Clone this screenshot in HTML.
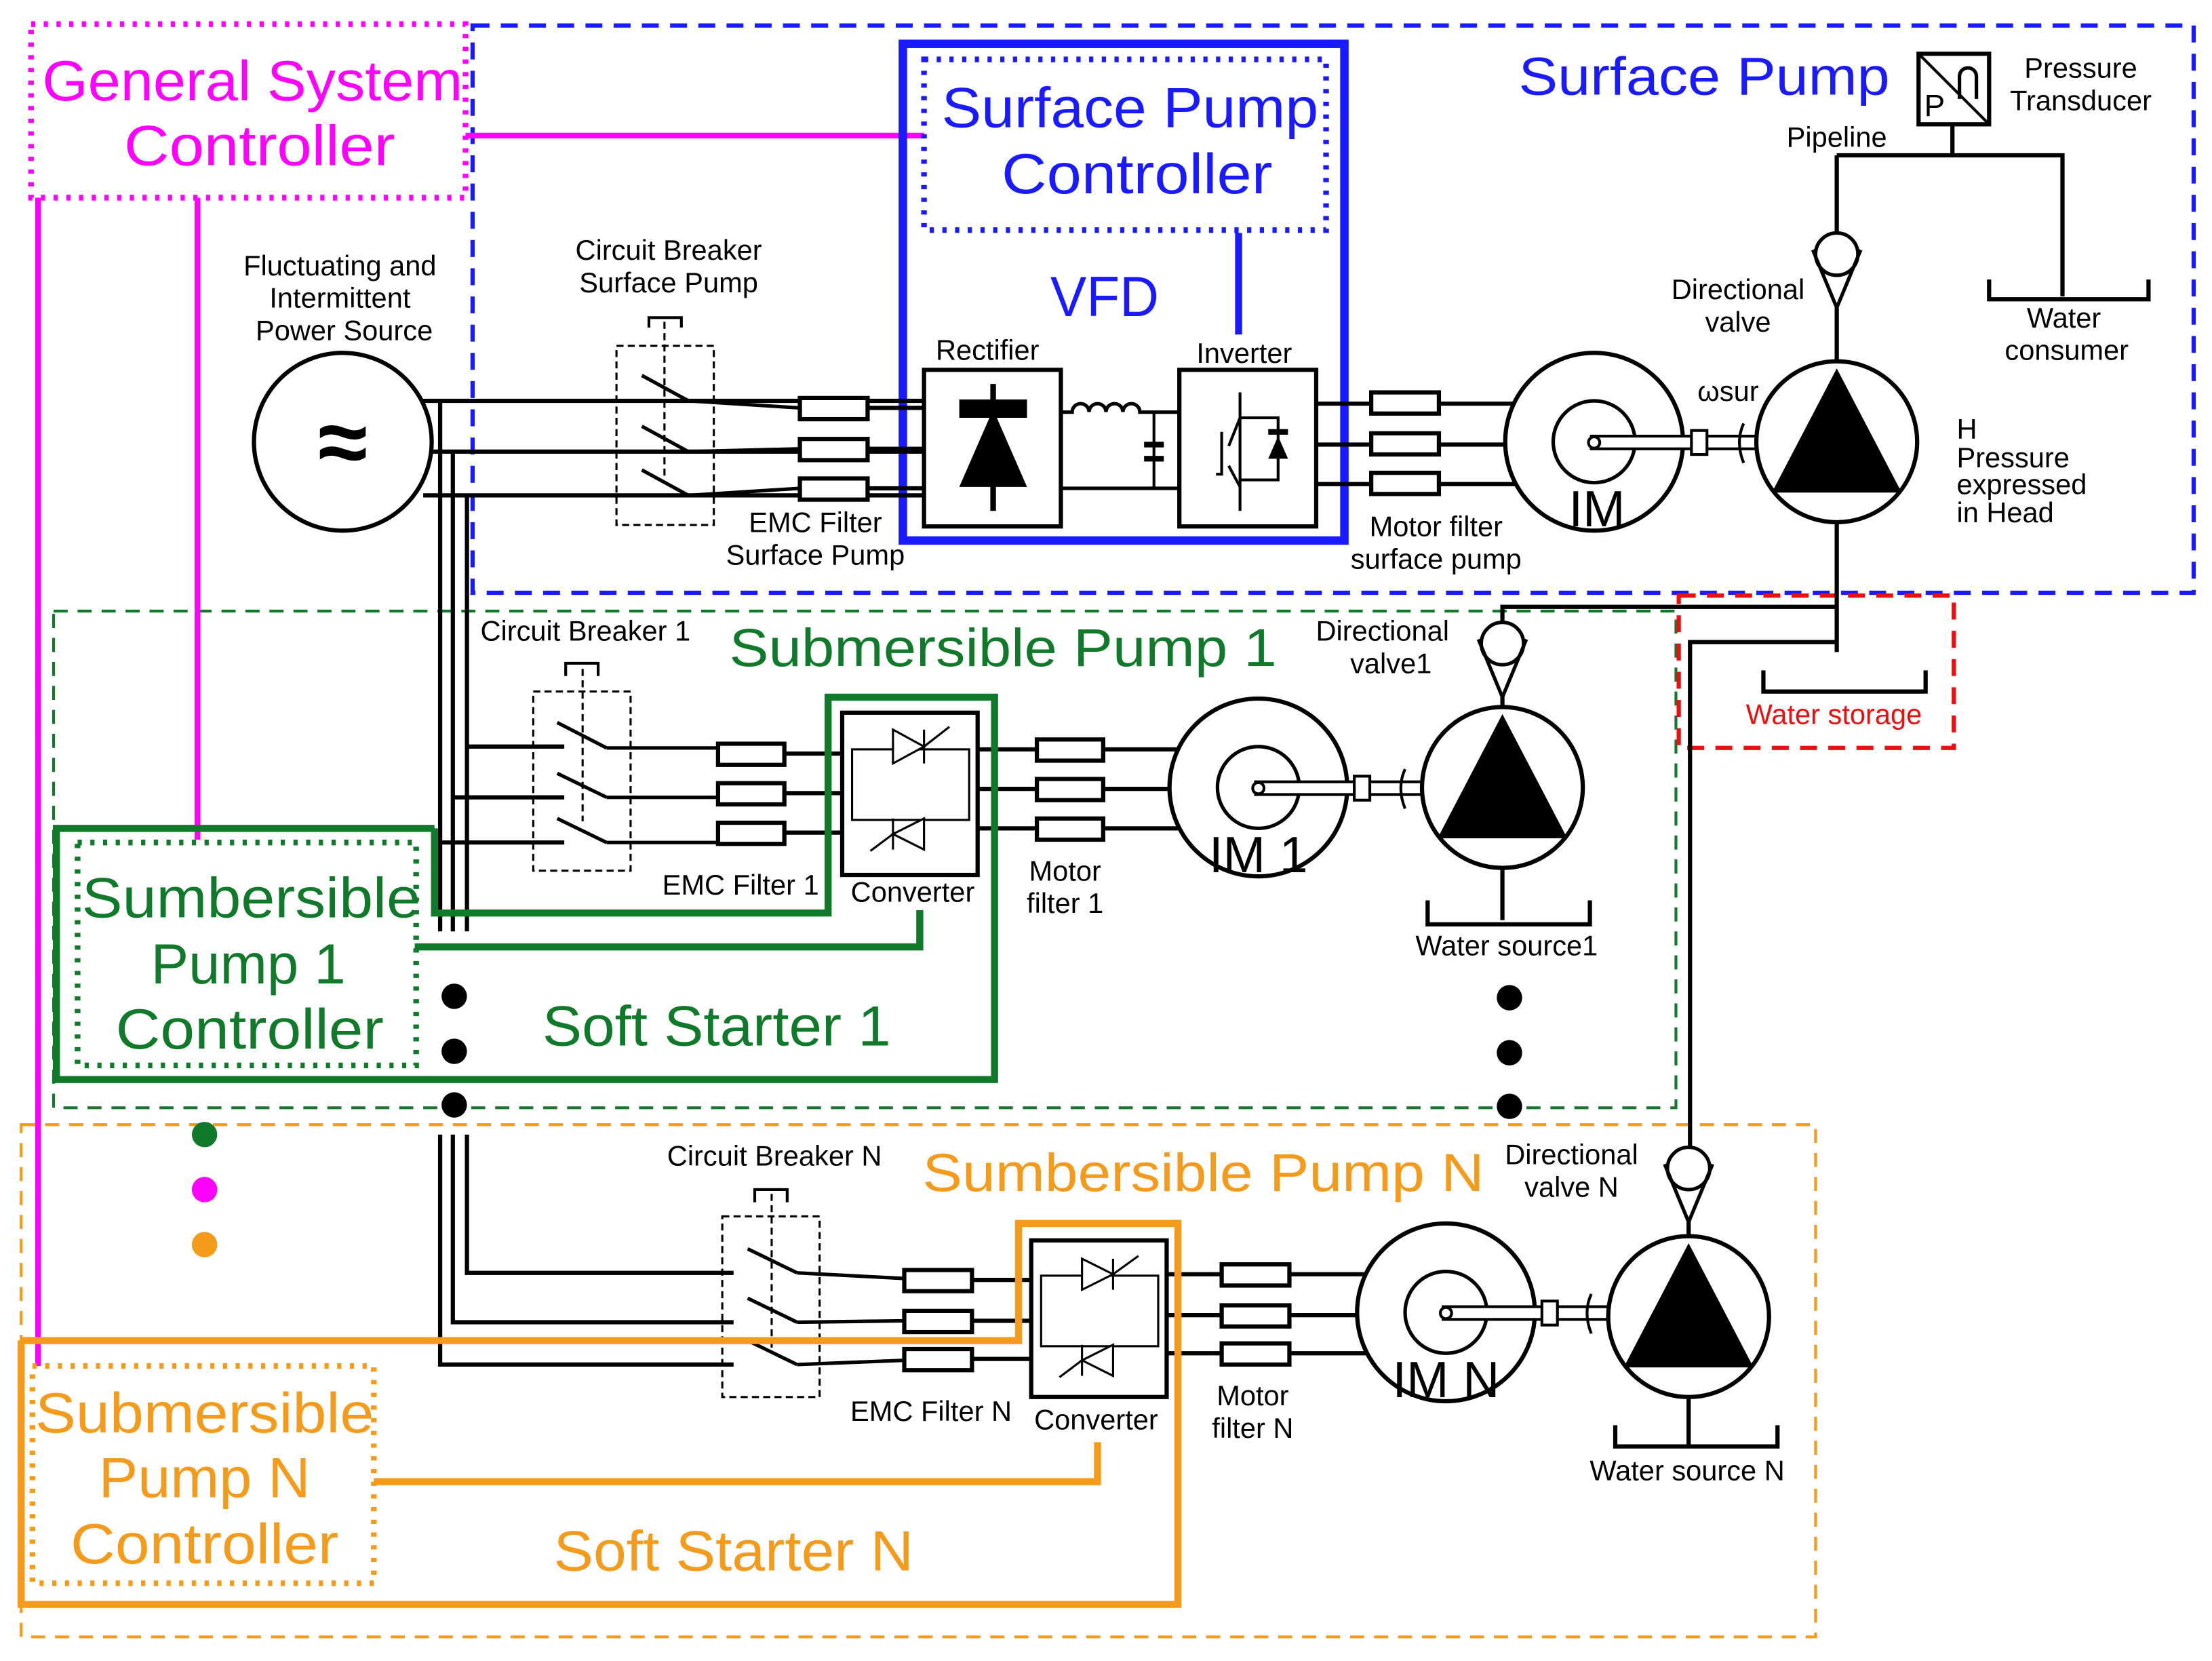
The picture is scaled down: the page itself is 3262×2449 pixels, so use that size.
<!DOCTYPE html>
<html><head><meta charset="utf-8"><style>
html,body{margin:0;padding:0;background:#fff}
svg{display:block}
text{font-family:"Liberation Sans","DejaVu Sans",sans-serif}
</style></head><body>
<svg width="3262" height="2449" viewBox="0 0 1568 1177" xmlns="http://www.w3.org/2000/svg">
<defs>
<g id="pump">
<circle cx="0" cy="0" r="57" fill="#fff" stroke="#000" stroke-width="3"/>
<polygon points="0,-52 -46,36 46,36" fill="#000"/>
</g>
<g id="valve">
<circle cx="0" cy="0" r="15" fill="#fff" stroke="#000" stroke-width="2.5"/>
<polyline points="-17,-3 0,38 17,-3" fill="none" stroke="#000" stroke-width="2.5"/>
</g>
<g id="motor">
<circle cx="0" cy="0" r="63" fill="#fff" stroke="#000" stroke-width="3"/>
<circle cx="0" cy="0" r="29" fill="none" stroke="#000" stroke-width="2.5"/>
</g>
</defs>

<rect x="335" y="18" width="1220" height="402" fill="none" stroke="#1a1aff" stroke-width="3" stroke-dasharray="12,8"/>
<rect x="38" y="433" width="1150" height="352" fill="none" stroke="#117a2a" stroke-width="2" stroke-dasharray="10,7"/>
<rect x="15" y="797" width="1272" height="363" fill="none" stroke="#f59b1c" stroke-width="2" stroke-dasharray="10,7"/>
<rect x="1190" y="422" width="195" height="108" fill="none" stroke="#e81010" stroke-width="3" stroke-dasharray="12,8"/>

<rect x="22" y="17" width="308" height="123" fill="none" stroke="#ff00ff" stroke-width="4" stroke-dasharray="3,6"/>
<text x="179" y="71" font-size="40" fill="#ff00ff" text-anchor="middle" textLength="298" lengthAdjust="spacingAndGlyphs">General System</text>
<text x="184" y="117" font-size="40" fill="#ff00ff" text-anchor="middle" textLength="192" lengthAdjust="spacingAndGlyphs">Controller</text>
<g stroke="#ff00ff" stroke-width="4" fill="none">
<line x1="330" y1="96" x2="655" y2="96"/>
<line x1="27" y1="140" x2="27" y2="968"/>
<line x1="140" y1="140" x2="140" y2="595"/>
</g>

<rect x="640" y="31" width="313" height="352" fill="none" stroke="#1a1aff" stroke-width="6"/>
<rect x="655" y="42" width="285" height="121" fill="none" stroke="#1a1aff" stroke-width="4" stroke-dasharray="3,6"/>
<text x="801" y="90" font-size="40" fill="#1a1aff" text-anchor="middle" textLength="267" lengthAdjust="spacingAndGlyphs">Surface Pump</text>
<text x="806" y="137" font-size="40" fill="#1a1aff" text-anchor="middle" textLength="192" lengthAdjust="spacingAndGlyphs">Controller</text>
<line x1="878" y1="165" x2="878" y2="237" stroke="#1a1aff" stroke-width="5"/>
<text x="783" y="224" font-size="40" fill="#1a1aff" text-anchor="middle" textLength="77" lengthAdjust="spacingAndGlyphs">VFD</text>
<text x="1208" y="67" font-size="38" fill="#1a1aff" text-anchor="middle" textLength="263" lengthAdjust="spacingAndGlyphs">Surface Pump</text>

<text font-size="20" text-anchor="middle" fill="#000"><tspan x="241" y="195">Fluctuating and</tspan><tspan x="241" y="218">Intermittent</tspan><tspan x="244" y="241">Power Source</tspan></text>
<circle cx="243" cy="313" r="63" fill="#fff" stroke="#000" stroke-width="3"/>
<text x="243" y="335" font-size="64" text-anchor="middle" font-weight="bold">≈</text>

<g stroke="#000" stroke-width="3" fill="none">
<line x1="300" y1="284" x2="655" y2="284"/>
<line x1="305" y1="320" x2="655" y2="320"/>
<line x1="300" y1="351" x2="655" y2="351"/>
<line x1="312" y1="284" x2="312" y2="660"/>
<line x1="321" y1="320" x2="321" y2="660"/>
<line x1="331" y1="351" x2="331" y2="660"/>
<polyline points="331,804 331,902 520,902"/>
<polyline points="321,804 321,937 520,937"/>
<polyline points="312,804 312,967 520,967"/>
<line x1="331" y1="529" x2="400" y2="529"/>
<line x1="321" y1="565" x2="400" y2="565"/>
<line x1="312" y1="597" x2="400" y2="597"/>
</g>

<g stroke="#000" fill="none">
<rect x="437" y="245" width="69" height="127" stroke-width="1.5" stroke-dasharray="5,3"/>
<polyline points="460,232 460,225 483,225 483,232" stroke-width="2"/>
<line x1="471" y1="228" x2="471" y2="338" stroke-width="1.5" stroke-dasharray="5,3"/>
<g stroke-width="2.5">
<line x1="455" y1="266" x2="488" y2="284"/><line x1="488" y1="284" x2="567" y2="289"/>
<line x1="455" y1="302" x2="488" y2="320"/><line x1="488" y1="320" x2="567" y2="318"/>
<line x1="455" y1="333" x2="488" y2="351"/><line x1="488" y1="351" x2="567" y2="346"/>
</g>
</g>
<text font-size="20" text-anchor="middle"><tspan x="474" y="184">Circuit Breaker</tspan><tspan x="474" y="207">Surface Pump</tspan></text>

<g stroke="#000" fill="none">
<rect x="378" y="490" width="69" height="127" stroke-width="1.5" stroke-dasharray="5,3"/>
<polyline points="401,479 401,470 424,470 424,479" stroke-width="2"/>
<line x1="413" y1="474" x2="413" y2="582" stroke-width="1.5" stroke-dasharray="5,3"/>
<g stroke-width="2.5">
<line x1="395" y1="512" x2="430" y2="530"/><line x1="430" y1="530" x2="509" y2="530"/>
<line x1="395" y1="548" x2="430" y2="565"/><line x1="430" y1="565" x2="509" y2="565"/>
<line x1="395" y1="580" x2="430" y2="597"/><line x1="430" y1="597" x2="509" y2="597"/>
</g>
</g>
<text x="415" y="454" font-size="20" text-anchor="middle">Circuit Breaker 1</text>

<g stroke="#000" fill="none">
<rect x="512" y="862" width="69" height="128" stroke-width="1.5" stroke-dasharray="5,3"/>
<polyline points="535,852 535,843 558,843 558,852" stroke-width="2"/>
<line x1="547" y1="846" x2="547" y2="955" stroke-width="1.5" stroke-dasharray="5,3"/>
<g stroke-width="2.5">
<line x1="530" y1="885" x2="565" y2="902"/><line x1="565" y1="902" x2="641" y2="906"/>
<line x1="530" y1="920" x2="565" y2="937"/><line x1="565" y1="937" x2="641" y2="936"/>
<line x1="530" y1="950" x2="565" y2="967"/><line x1="565" y1="967" x2="641" y2="964"/>
</g>
</g>
<text x="549" y="826" font-size="20" text-anchor="middle">Circuit Breaker N</text>

<g stroke="#000" stroke-width="3" fill="#fff">
<rect x="567" y="282" width="48" height="15"/><rect x="567" y="311" width="48" height="15"/><rect x="567" y="339" width="48" height="15"/>
<rect x="972" y="278" width="48" height="15"/><rect x="972" y="307" width="48" height="15"/><rect x="972" y="335" width="48" height="15"/>
<rect x="509" y="527" width="47" height="15"/><rect x="509" y="555" width="47" height="15"/><rect x="509" y="583" width="47" height="15"/>
<rect x="735" y="524" width="47" height="15"/><rect x="735" y="552" width="47" height="15"/><rect x="735" y="580" width="47" height="15"/>
<rect x="641" y="900" width="48" height="15"/><rect x="641" y="929" width="48" height="15"/><rect x="641" y="956" width="48" height="15"/>
<rect x="866" y="896" width="48" height="15"/><rect x="866" y="925" width="48" height="15"/><rect x="866" y="952" width="48" height="15"/>
</g>
<g stroke="#000" stroke-width="3">
<line x1="615" y1="289" x2="655" y2="289"/><line x1="615" y1="318" x2="655" y2="318"/><line x1="615" y1="346" x2="655" y2="346"/>
<line x1="933" y1="286" x2="972" y2="286"/><line x1="933" y1="315" x2="972" y2="315"/><line x1="933" y1="343" x2="972" y2="343"/>
<line x1="1020" y1="286" x2="1075" y2="286"/><line x1="1020" y1="315" x2="1070" y2="315"/><line x1="1020" y1="343" x2="1075" y2="343"/>
<line x1="556" y1="534" x2="597" y2="534"/><line x1="556" y1="562" x2="597" y2="562"/><line x1="556" y1="590" x2="597" y2="590"/>
<line x1="693" y1="531" x2="735" y2="531"/><line x1="693" y1="559" x2="735" y2="559"/><line x1="693" y1="587" x2="735" y2="587"/>
<line x1="782" y1="531" x2="835" y2="531"/><line x1="782" y1="559" x2="830" y2="559"/><line x1="782" y1="587" x2="835" y2="587"/>
<line x1="689" y1="907" x2="731" y2="907"/><line x1="689" y1="936" x2="731" y2="936"/><line x1="689" y1="963" x2="731" y2="963"/>
<line x1="827" y1="903" x2="866" y2="903"/><line x1="827" y1="932" x2="866" y2="932"/><line x1="827" y1="959" x2="866" y2="959"/>
<line x1="914" y1="903" x2="968" y2="903"/><line x1="914" y1="932" x2="963" y2="932"/><line x1="914" y1="959" x2="968" y2="959"/>
</g>
<text font-size="20" text-anchor="middle"><tspan x="578" y="377">EMC Filter</tspan><tspan x="578" y="400">Surface Pump</tspan></text>
<text x="525" y="634" font-size="20" text-anchor="middle">EMC Filter 1</text>
<text x="660" y="1007" font-size="20" text-anchor="middle">EMC Filter N</text>
<text font-size="20" text-anchor="middle"><tspan x="1018" y="380">Motor filter</tspan><tspan x="1018" y="403">surface pump</tspan></text>
<text font-size="20" text-anchor="middle"><tspan x="755" y="624">Motor</tspan><tspan x="755" y="647">filter 1</tspan></text>
<text font-size="20" text-anchor="middle"><tspan x="888" y="996">Motor</tspan><tspan x="888" y="1019">filter N</tspan></text>

<rect x="655" y="262" width="97" height="111" fill="#fff" stroke="#000" stroke-width="3"/>
<line x1="704" y1="272" x2="704" y2="362" stroke="#000" stroke-width="4"/>
<rect x="680" y="283" width="48" height="13" fill="#000"/>
<polygon points="704,290 680,345 728,345" fill="#000"/>
<text x="700" y="255" font-size="20" text-anchor="middle">Rectifier</text>
<path d="M752,292 L760,292 a6,6 0 0 1 12,0 a6,6 0 0 1 12,0 a6,6 0 0 1 12,0 a6,6 0 0 1 12,0 L836,292" fill="none" stroke="#000" stroke-width="2.5"/>
<line x1="752" y1="346" x2="836" y2="346" stroke="#000" stroke-width="2.5"/>
<line x1="818" y1="292" x2="818" y2="346" stroke="#000" stroke-width="2"/>
<rect x="811" y="313" width="14" height="4" fill="#000"/><rect x="811" y="323" width="14" height="4" fill="#000"/>
<rect x="836" y="262" width="97" height="111" fill="#fff" stroke="#000" stroke-width="3"/>
<text x="882" y="257" font-size="20" text-anchor="middle">Inverter</text>
<g stroke="#000" stroke-width="2" fill="none">
<line x1="879" y1="278" x2="879" y2="362"/>
<polyline points="879,296 906,296 906,340 879,340"/>
<line x1="871" y1="316" x2="879" y2="296"/><line x1="871" y1="330" x2="879" y2="345"/>
<polyline points="866,306 866,336 862,336"/>
</g>
<polygon points="906,309 899,325 913,325" fill="#000"/><rect x="899" y="304" width="14" height="4" fill="#000"/>

<rect x="597" y="505" width="96" height="115" fill="#fff" stroke="#000" stroke-width="3"/>
<g stroke="#000" stroke-width="1.5" fill="none">
<rect x="604" y="531" width="83" height="50"/>
<polygon points="633,517 633,541 655,529" fill="#fff"/><line x1="655" y1="517" x2="655" y2="541"/><line x1="655" y1="529" x2="673" y2="515"/>
<polygon points="655,580 655,602 633,591" fill="#fff"/><line x1="633" y1="580" x2="633" y2="602"/><line x1="633" y1="591" x2="617" y2="603"/>
</g>
<text x="647" y="639" font-size="20" text-anchor="middle">Converter</text>
<rect x="731" y="879" width="96" height="111" fill="#fff" stroke="#000" stroke-width="3"/>
<g stroke="#000" stroke-width="1.5" fill="none">
<rect x="738" y="904" width="83" height="50"/>
<polygon points="767,892 767,914 789,903" fill="#fff"/><line x1="789" y1="892" x2="789" y2="914"/><line x1="789" y1="903" x2="807" y2="890"/>
<polygon points="789,953 789,975 767,964" fill="#fff"/><line x1="767" y1="953" x2="767" y2="975"/><line x1="767" y1="964" x2="751" y2="976"/>
</g>
<text x="777" y="1013" font-size="20" text-anchor="middle">Converter</text>

<g stroke="#117a2a" stroke-width="5" fill="none">
<polyline points="308,587 308,647 587,647 587,494 705,494 705,765 40,765 40,587 308,587"/>
<polyline points="294,671 652,671 652,645"/>
</g>
<rect x="55" y="597" width="240" height="158" fill="none" stroke="#117a2a" stroke-width="4" stroke-dasharray="3,6"/>
<text x="178" y="650" font-size="40" fill="#117a2a" text-anchor="middle" textLength="240" lengthAdjust="spacingAndGlyphs">Sumbersible</text>
<text x="176" y="697" font-size="40" fill="#117a2a" text-anchor="middle" textLength="138" lengthAdjust="spacingAndGlyphs">Pump 1</text>
<text x="177" y="743" font-size="40" fill="#117a2a" text-anchor="middle" textLength="190" lengthAdjust="spacingAndGlyphs">Controller</text>
<text x="508" y="741" font-size="40" fill="#117a2a" text-anchor="middle" textLength="247" lengthAdjust="spacingAndGlyphs">Soft Starter 1</text>
<text x="711" y="472" font-size="38" fill="#117a2a" text-anchor="middle" textLength="388" lengthAdjust="spacingAndGlyphs">Submersible Pump 1</text>

<g stroke="#f59b1c" stroke-width="5" fill="none">
<polyline points="15,950 722,950 722,867 835,867 835,1137 15,1137 15,950"/>
<polyline points="265,1050 778,1050 778,1022"/>
</g>
<rect x="23" y="968" width="242" height="154" fill="none" stroke="#f59b1c" stroke-width="4" stroke-dasharray="3,6"/>
<text x="145" y="1015" font-size="40" fill="#f59b1c" text-anchor="middle" textLength="240" lengthAdjust="spacingAndGlyphs">Submersible</text>
<text x="145" y="1061" font-size="40" fill="#f59b1c" text-anchor="middle" textLength="150" lengthAdjust="spacingAndGlyphs">Pump N</text>
<text x="145" y="1108" font-size="40" fill="#f59b1c" text-anchor="middle" textLength="190" lengthAdjust="spacingAndGlyphs">Controller</text>
<text x="520" y="1113" font-size="40" fill="#f59b1c" text-anchor="middle" textLength="255" lengthAdjust="spacingAndGlyphs">Soft Starter N</text>
<text x="853" y="844" font-size="38" fill="#f59b1c" text-anchor="middle" textLength="398" lengthAdjust="spacingAndGlyphs">Sumbersible Pump N</text>

<use href="#motor" x="1130" y="313"/>
<g stroke="#000" stroke-width="2" fill="#fff">
<rect x="1128" y="309" width="120" height="9"/>
<rect x="1199" y="305" width="11" height="17"/>
</g>
<path d="M1236,300 q-6,13 0,28" stroke="#000" stroke-width="2" fill="none"/>
<circle cx="1130" cy="313.5" r="4" fill="#fff" stroke="#000" stroke-width="2"/>
<text x="1132" y="373" font-size="36" text-anchor="middle">IM</text>
<text x="1225" y="284" font-size="20" text-anchor="middle">ωsur</text>
<use href="#pump" x="1302" y="313"/>
<text font-size="20"><tspan x="1387" y="311">H</tspan><tspan x="1387" y="331">Pressure</tspan><tspan x="1387" y="350">expressed</tspan><tspan x="1387" y="370">in Head</tspan></text>

<g stroke="#000" stroke-width="3" fill="none">
<line x1="1302" y1="218" x2="1302" y2="256"/>
<line x1="1302" y1="165" x2="1302" y2="110"/>
<polyline points="1302,110 1462,110 1462,210"/>
<line x1="1384" y1="88" x2="1384" y2="110"/>
<polyline points="1410,198 1410,212 1523,212 1523,198"/>
<line x1="1302" y1="370" x2="1302" y2="462"/>
<polyline points="1250,475 1250,490 1365,490 1365,475"/>
<polyline points="1065,441 1065,430 1302,430"/>
<polyline points="1198,812 1198,455 1302,455"/>
<line x1="1065" y1="492" x2="1065" y2="505"/>
<line x1="1065" y1="615" x2="1065" y2="652"/>
<polyline points="1012,638 1012,655 1127,655 1127,638"/>
<line x1="1197" y1="864" x2="1197" y2="877"/>
<line x1="1197" y1="990" x2="1197" y2="1025"/>
<polyline points="1145,1010 1145,1025 1260,1025 1260,1010"/>
</g>
<use href="#valve" x="1302" y="180"/>
<rect x="1360" y="38" width="50" height="50" fill="#fff" stroke="#000" stroke-width="3"/>
<line x1="1360" y1="38" x2="1410" y2="88" stroke="#000" stroke-width="2"/>
<text x="1364" y="82" font-size="22">P</text>
<path d="M1389,70 v-16 a6,6 0 0 1 12,0 v16" fill="none" stroke="#000" stroke-width="2.5"/>
<text font-size="20" text-anchor="middle"><tspan x="1475" y="55">Pressure</tspan><tspan x="1475" y="78">Transducer</tspan></text>
<text x="1302" y="104" font-size="20" text-anchor="middle">Pipeline</text>
<text font-size="20" text-anchor="middle"><tspan x="1232" y="212">Directional</tspan><tspan x="1232" y="235">valve</tspan></text>
<text font-size="20" text-anchor="middle"><tspan x="1463" y="232">Water</tspan><tspan x="1465" y="255">consumer</tspan></text>
<text x="1300" y="513" font-size="20" fill="#e81010" text-anchor="middle">Water storage</text>

<use href="#motor" x="892" y="558"/>
<g stroke="#000" stroke-width="2" fill="#fff">
<rect x="890" y="554" width="120" height="9"/>
<rect x="960" y="550" width="11" height="17"/>
</g>
<path d="M996,545 q-6,13 0,28" stroke="#000" stroke-width="2" fill="none"/>
<circle cx="892" cy="558.5" r="4" fill="#fff" stroke="#000" stroke-width="2"/>
<text x="892" y="618" font-size="36" text-anchor="middle">IM 1</text>
<use href="#pump" x="1065" y="558"/>
<use href="#valve" x="1065" y="456"/>
<text font-size="20" text-anchor="middle"><tspan x="980" y="454">Directional</tspan><tspan x="986" y="477">valve1</tspan></text>
<text x="1068" y="677" font-size="20" text-anchor="middle">Water source1</text>

<use href="#motor" x="1025" y="930"/>
<g stroke="#000" stroke-width="2" fill="#fff">
<rect x="1023" y="926" width="120" height="9"/>
<rect x="1093" y="922" width="11" height="17"/>
</g>
<path d="M1128,917 q-6,13 0,28" stroke="#000" stroke-width="2" fill="none"/>
<circle cx="1025" cy="930.5" r="4" fill="#fff" stroke="#000" stroke-width="2"/>
<text x="1025" y="990" font-size="36" text-anchor="middle">IM N</text>
<use href="#pump" x="1197" y="933"/>
<use href="#valve" x="1197" y="828"/>
<text font-size="20" text-anchor="middle"><tspan x="1114" y="825">Directional</tspan><tspan x="1114" y="848">valve N</tspan></text>
<text x="1196" y="1049" font-size="20" text-anchor="middle">Water source N</text>

<g fill="#000">
<circle cx="322" cy="706" r="9"/><circle cx="322" cy="745" r="9"/><circle cx="322" cy="783" r="9"/>
<circle cx="1070" cy="707" r="9"/><circle cx="1070" cy="746" r="9"/><circle cx="1070" cy="784" r="9"/>
</g>
<circle cx="145" cy="804" r="9" fill="#117a2a"/>
<circle cx="145" cy="843" r="9" fill="#ff00ff"/>
<circle cx="145" cy="882" r="9" fill="#f59b1c"/>
</svg>
</body></html>
